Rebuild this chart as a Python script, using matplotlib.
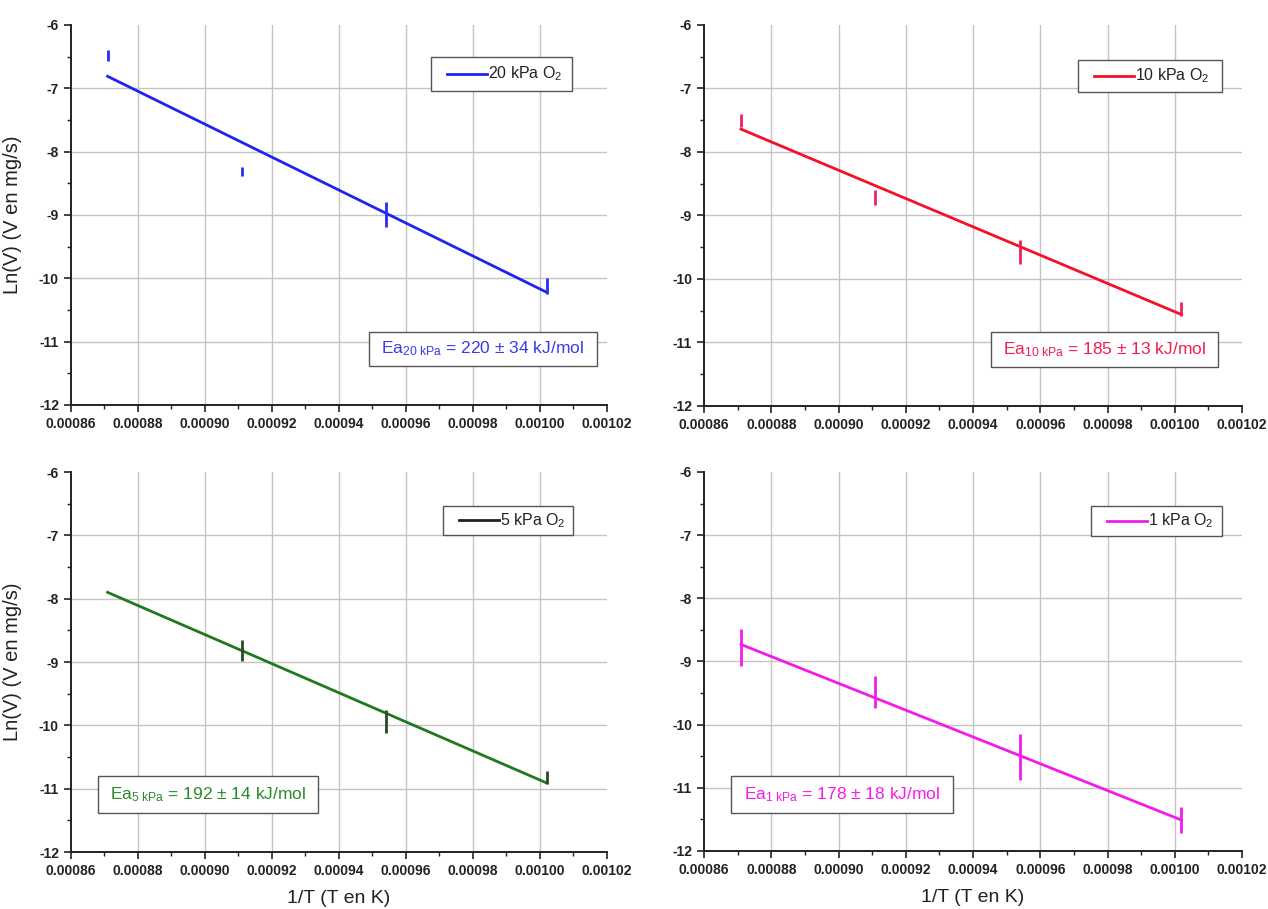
import matplotlib
matplotlib.use("Agg")
import matplotlib.pyplot as plt
from matplotlib.patches import Rectangle
from matplotlib.ticker import MultipleLocator, FormatStrFormatter
import numpy as np

plt.rcParams['font.family'] = ['Liberation Sans', 'DejaVu Sans']
plt.rcParams['mathtext.fontset'] = 'custom'
plt.rcParams['mathtext.rm'] = 'Liberation Sans'
plt.rcParams['mathtext.it'] = 'Liberation Sans'

# ---------------- data ----------------
inv_T = [0.000871, 0.000911, 0.000954, 0.001002]

labels = ["20 kPa", "10 kPa", "5 kPa", "1 kPa"]
ea_values = ["220 ± 34", "185 ± 13", "192 ± 14", "178 ± 18"]

lnV_20 = [-6.48, -8.31, -8.99, -10.12]
err_20 = [0.09, 0.07, 0.20, 0.12]
fit_20 = [-6.81, -10.22]

lnV_10 = [-7.50, -8.72, -9.58, -10.47]
err_10 = [0.10, 0.12, 0.19, 0.11]
fit_10 = [-7.64, -10.56]

lnV_5 = [np.nan, -8.82, -9.94, -10.82]
err_5 = [0.0, 0.16, 0.18, 0.10]
fit_5 = [-7.90, -10.91]

lnV_1 = [-8.78, -9.48, -10.51, -11.51]
err_1 = [0.29, 0.25, 0.36, 0.20]
fit_1 = [-8.73, -11.51]

fit_x = [inv_T[0], inv_T[-1]]

x_grid = [0.00088, 0.00090, 0.00092, 0.00094, 0.00096, 0.00098, 0.00100]
y_grid = [-7, -8, -9, -10, -11]

series = [
    dict(lab=labels[0], ea=ea_values[0], y=lnV_20, e=err_20, fit=fit_20,
         color='#2222F0', ecolor='#2a2af5', tcolor='#3a3af0', lcolor='#2222F0'),
    dict(lab=labels[1], ea=ea_values[1], y=lnV_10, e=err_10, fit=fit_10,
         color='#F41026', ecolor='#F0205A', tcolor='#EE2050', lcolor='#F41026'),
    dict(lab=labels[2], ea=ea_values[2], y=lnV_5, e=err_5, fit=fit_5,
         color='#1E7A1E', ecolor='#2A4A2A', tcolor='#2A8A2A', lcolor='#222222'),
    dict(lab=labels[3], ea=ea_values[3], y=lnV_1, e=err_1, fit=fit_1,
         color='#F21CEA', ecolor='#F21CEA', tcolor='#F21CEA', lcolor='#F21CEA'),
]

W, H = 1268, 909
fig = plt.figure(figsize=(W / 100, H / 100), dpi=100)

def px_axes(l, r, t, b):
    return [l / W, 1 - b / H, (r - l) / W, (b - t) / H]

axes_px = [
    (70.7, 607, 25, 405),
    (704, 1242, 25, 406),
    (70.7, 607, 472, 852),
    (704, 1242, 472, 851),
]
legend_box = [  # x0, x1, y0(bottom), y1(top) in axes fraction
    (0.672, 0.935, 0.826, 0.916),
    (0.695, 0.963, 0.825, 0.908),
    (0.694, 0.936, 0.834, 0.911),
    (0.719, 0.963, 0.832, 0.909),
]
ea_box = [
    (0.556, 0.981, 0.103, 0.192),
    (0.533, 0.955, 0.102, 0.194),
    (0.051, 0.462, 0.103, 0.200),
    (0.050, 0.463, 0.100, 0.198),
]

for i, s in enumerate(series):
    ax = fig.add_axes(px_axes(*axes_px[i]))
    ax.set_xlim(0.00086, 0.00102)
    ax.set_ylim(-12, -6)
    ax.xaxis.set_major_locator(MultipleLocator(0.00002))
    ax.xaxis.set_minor_locator(MultipleLocator(0.00001))
    ax.yaxis.set_major_locator(MultipleLocator(1))
    ax.yaxis.set_minor_locator(MultipleLocator(0.5))
    ax.xaxis.set_major_formatter(FormatStrFormatter('%.5f'))
    ax.yaxis.set_major_formatter(FormatStrFormatter('%d'))
    for sp in ['top', 'right']:
        ax.spines[sp].set_visible(False)
    for sp in ['left', 'bottom']:
        ax.spines[sp].set_linewidth(1.4)
        ax.spines[sp].set_color('#222222')
    ax.tick_params(axis='both', which='major', length=5, width=1.2,
                   labelsize=10, direction='out', colors='#222222')
    ax.tick_params(axis='both', which='minor', length=3, width=1.0,
                   direction='out', colors='#222222')
    for lbl in ax.get_xticklabels() + ax.get_yticklabels():
        lbl.set_fontweight('bold')

    # interior grid lines
    for gx in x_grid:
        ax.axvline(gx, color='#c4c4c4', lw=1.0, zorder=1)
    for gy in y_grid:
        ax.axhline(gy, color='#c4c4c4', lw=1.0, zorder=1)

    # fit line
    ax.plot(fit_x, s['fit'], color=s['color'], lw=2.0, zorder=3)
    # error bars (no markers)
    ax.errorbar(inv_T, s['y'], yerr=s['e'], fmt='none', ecolor=s['ecolor'],
                elinewidth=2.0, capsize=0, zorder=4)

    # legend
    lx0, lx1, ly0, ly1 = legend_box[i]
    ax.add_patch(Rectangle((lx0, ly0), lx1 - lx0, ly1 - ly0, transform=ax.transAxes,
                           facecolor='white', edgecolor='#555555', lw=1.0, zorder=5))
    ym = (ly0 + ly1) / 2
    ax.plot([lx0 + 0.03, lx0 + 0.105], [ym, ym], transform=ax.transAxes,
            color=s['lcolor'], lw=2.0, zorder=6)
    ax.text(lx0 + 0.106, ym, s['lab'] + ' O$_2$', transform=ax.transAxes,
            fontsize=11.5, va='center', ha='left', color='#222222', zorder=6)

    # Ea box
    ex0, ex1, ey0, ey1 = ea_box[i]
    ax.add_patch(Rectangle((ex0, ey0), ex1 - ex0, ey1 - ey0, transform=ax.transAxes,
                           facecolor='white', edgecolor='#555555', lw=1.0, zorder=5))
    ax.text((ex0 + ex1) / 2, (ey0 + ey1) / 2,
            'Ea$_{\\mathregular{' + s['lab'].replace(' ', '\\ ') + '}}$ = ' + s['ea'] + ' kJ/mol',
            transform=ax.transAxes, fontsize=12.5, ha='center', va='center',
            color=s['tcolor'], zorder=6)

    if i in (0, 2):
        ax.set_ylabel('Ln(V) (V en mg/s)', fontsize=14.5, labelpad=12, color='#222222')
    if i in (2, 3):
        ax.set_xlabel('1/T (T en K)', fontsize=14, labelpad=9, color='#222222')

fig.savefig('out.png', dpi=100)
